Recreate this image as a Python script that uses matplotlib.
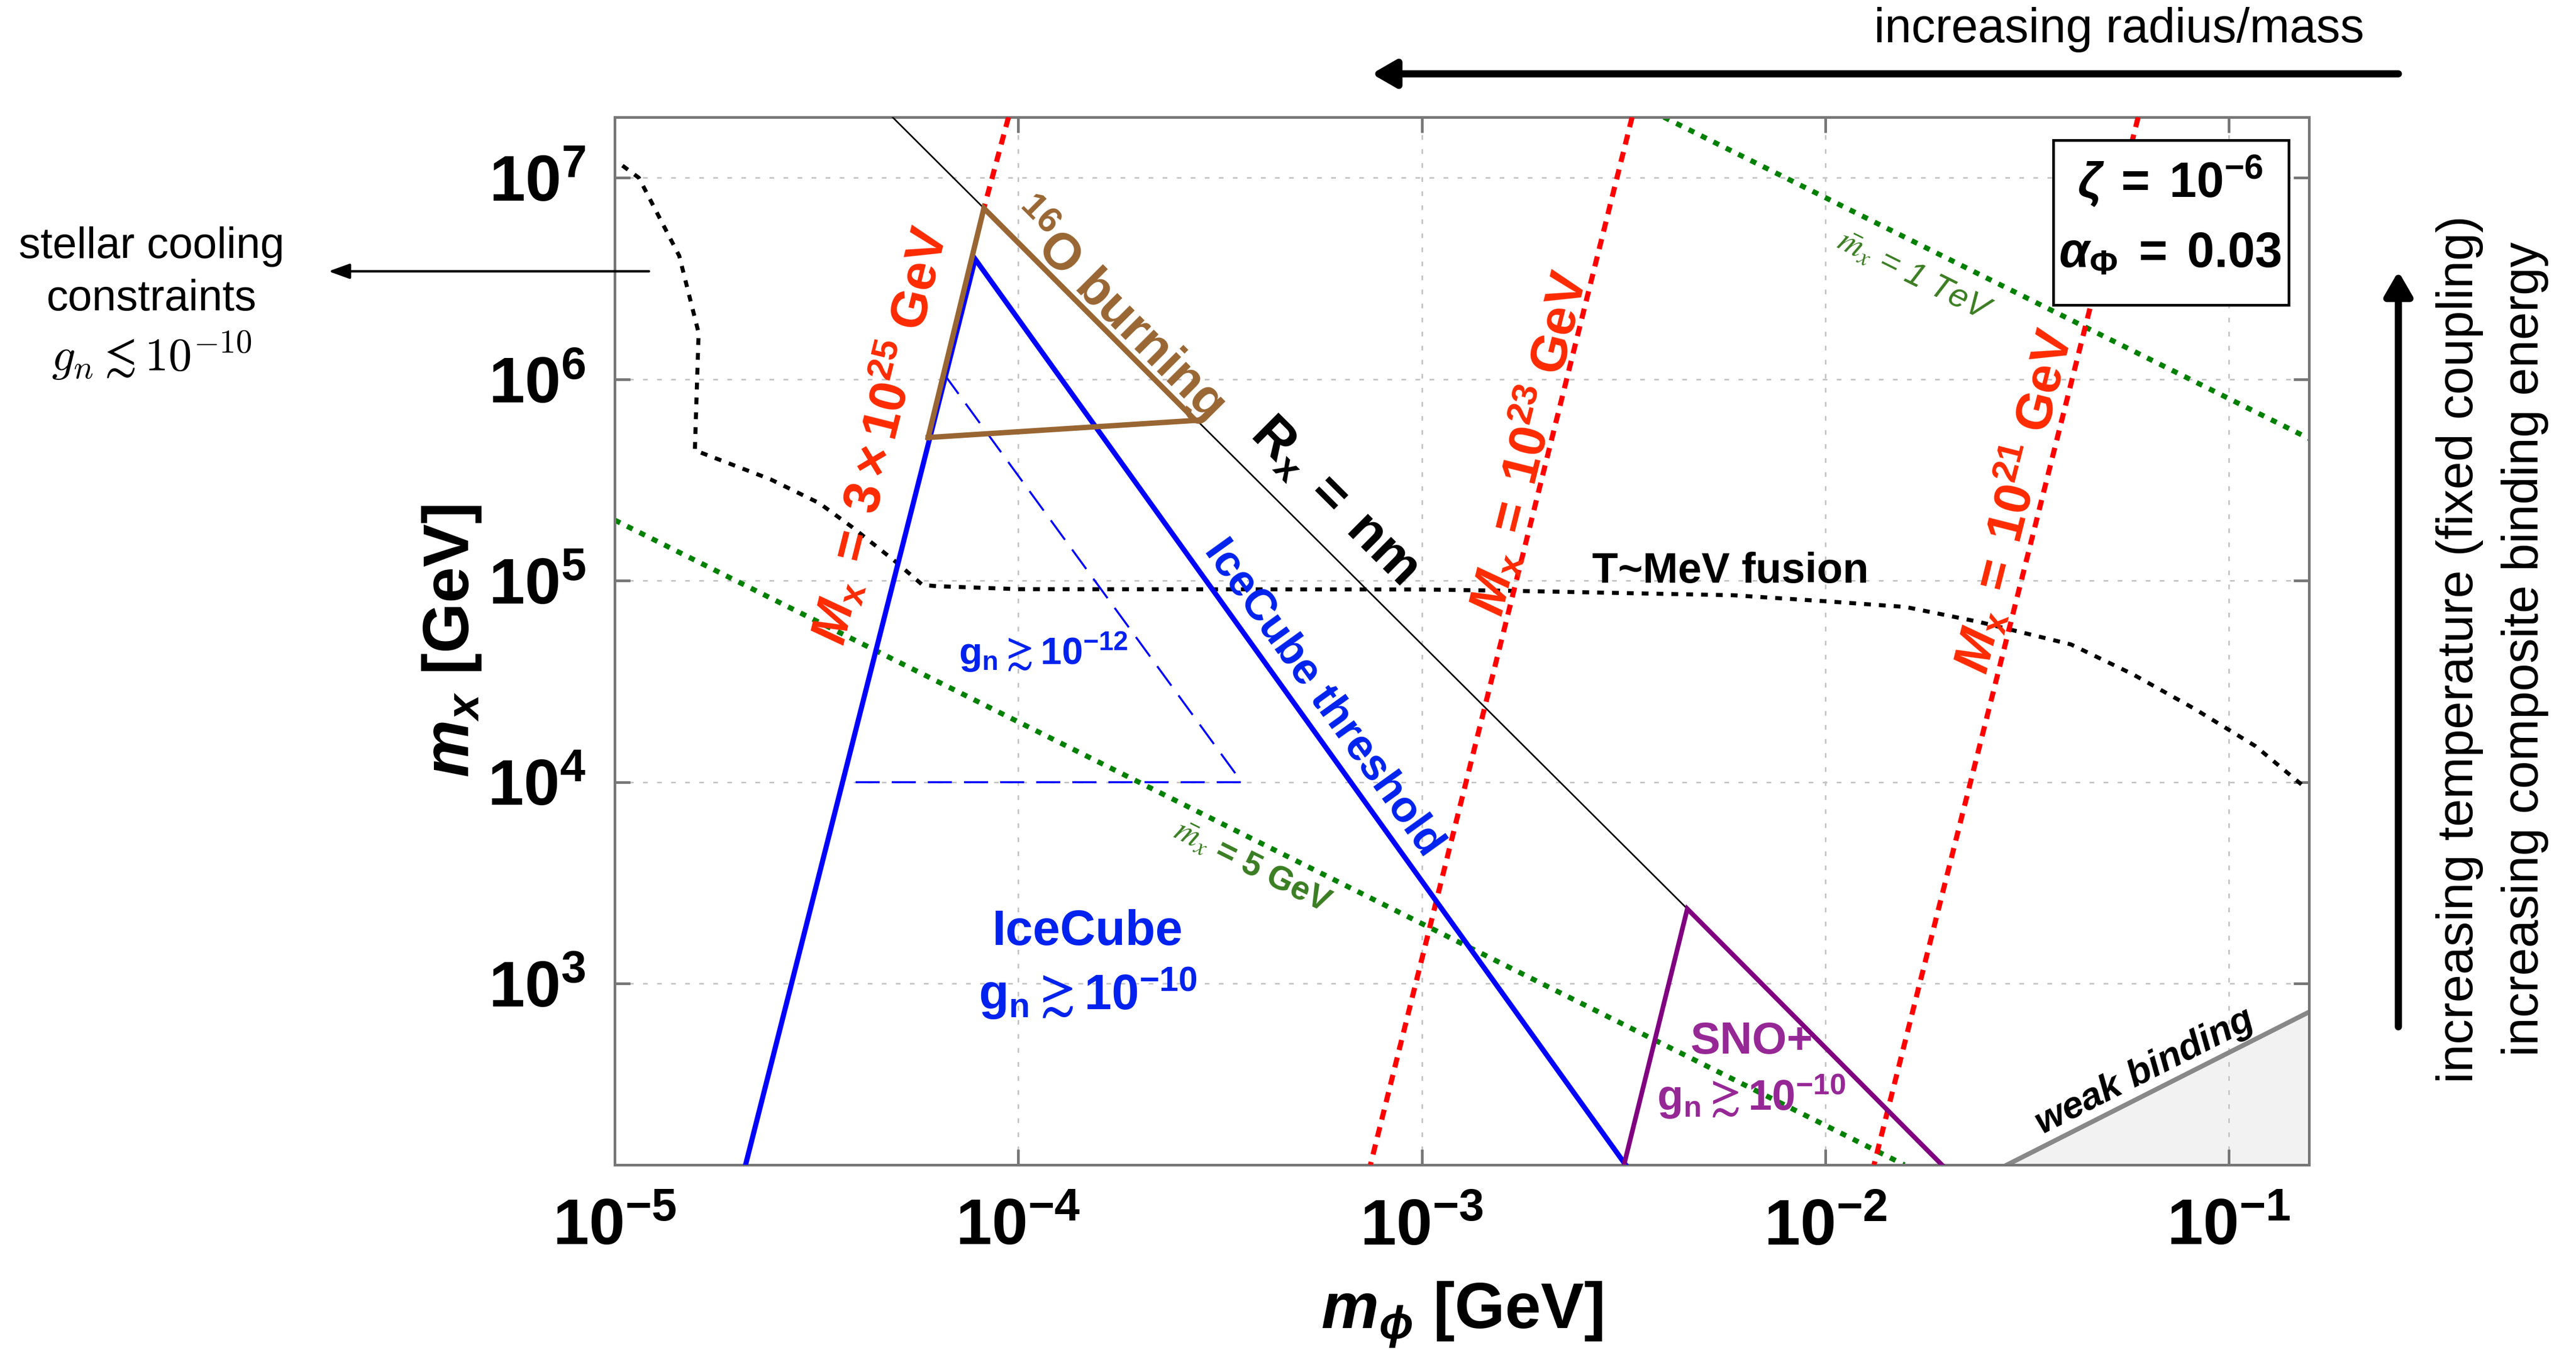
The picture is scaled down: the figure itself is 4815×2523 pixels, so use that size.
import numpy as np
import matplotlib
matplotlib.use('Agg')
import matplotlib.pyplot as plt
from matplotlib.patches import Rectangle, FancyArrowPatch

plt.rcParams['font.family'] = ['Liberation Sans', 'DejaVu Sans']
plt.rcParams['mathtext.fontset'] = 'custom'
plt.rcParams['mathtext.rm'] = 'Liberation Sans'
plt.rcParams['mathtext.it'] = 'Liberation Sans:italic'
plt.rcParams['mathtext.bf'] = 'Liberation Sans:bold'
plt.rcParams['mathtext.bfit'] = 'Liberation Sans:italic:bold'

#%% data (m_phi [GeV], m_x [GeV])
xlim = (1e-5, 0.158)
ylim = (126, 2.0e7)
xticks = [1e-5, 1e-4, 1e-3, 1e-2, 1e-1]
xticklabels = [r'$\mathbf{10^{-5}}$', r'$\mathbf{10^{-4}}$', r'$\mathbf{10^{-3}}$',
               r'$\mathbf{10^{-2}}$', r'$\mathbf{10^{-1}}$']
yticks = [1e3, 1e4, 1e5, 1e6, 1e7]
yticklabels = [r'$\mathbf{10^{3}}$', r'$\mathbf{10^{4}}$', r'$\mathbf{10^{5}}$',
               r'$\mathbf{10^{6}}$', r'$\mathbf{10^{7}}$']

# R_x = nm
rx_phi = [4.88e-5, 4.55e-3]
rx_mx = [2.0e7, 2350]
# 16O burning triangle
o16_phi = [5.98e-5, 8.22e-5, 2.75e-4, 5.98e-5]
o16_mx = [5.14e5, 7.06e6, 6.25e5, 5.14e5]
# IceCube g_n > 1e-10
ice_phi = [2.11e-5, 7.82e-5, 3.20e-3]
ice_mx = [126, 3.95e6, 126]
# IceCube g_n > 1e-12 (dashed)
ice12_phi = [6.56e-5, 3.58e-4, 3.66e-5]
ice12_mx = [1.057e6, 1e4, 1e4]
# SNO+
sno_phi = [3.17e-3, 4.55e-3, 1.945e-2]
sno_mx = [126, 2350, 126]
# constant M_x lines
m25_phi = [9.46e-5, 8.22e-5]
m25_mx = [2.0e7, 7.06e6]
m23_phi = [3.32e-3, 7.46e-4]
m23_mx = [2.0e7, 126]
m21_phi = [5.96e-2, 1.32e-2]
m21_mx = [2.0e7, 126]
# constant mbar_x lines
g5_phi = [1e-5, 1.57e-2]
g5_mx = [2.0e5, 126]
t1_phi = [3.98e-3, 0.158]
t1_mx = [2.0e7, 5.08e5]
# T~MeV fusion / stellar cooling boundary
fus_phi = [1.045e-5, 1.148e-5, 1.445e-5, 1.614e-5, 1.58e-5, 2.43e-5, 3.21e-5, 3.87e-5,
           4.95e-5, 5.79e-5, 6.27e-5, 1.0e-4, 1.0e-3, 1.675e-3, 5.92e-3, 1.0e-2, 1.58e-2,
           2.40e-2, 4.06e-2, 5.77e-2, 8.20e-2, 0.1164, 0.154]
fus_mx = [1.15e7, 1.0e7, 4.10e6, 1.70e6, 4.44e5, 3.19e5, 2.43e5, 1.85e5,
          1.25e5, 9.53e4, 9.40e4, 9.08e4, 9.05e4, 8.91e4, 8.47e4, 7.91e4, 7.41e4,
          6.25e4, 4.83e4, 3.44e4, 2.32e4, 1.51e4, 9.46e3]
# weak binding
weak_phi = [2.82e-2, 0.158]
weak_mx = [126, 723]

W, H = 4815, 2523
fig = plt.figure(figsize=(W / 300, H / 300), dpi=300)
ax = fig.add_axes([1149 / W, 1 - 2177 / H, 3167 / W, 1958 / H])
ax.set_xscale('log')
ax.set_yscale('log')
ax.set_xlim(*xlim)
ax.set_ylim(*ylim)
ax.set_xticks(xticks)
ax.set_xticklabels(xticklabels, fontsize=29)
ax.set_yticks(yticks)
ax.set_yticklabels(yticklabels, fontsize=29)
ax.minorticks_off()
ax.tick_params(direction='in', length=7, width=1.2, color='#777777', top=True, right=True)
ax.tick_params(axis='x', pad=15)
ax.tick_params(axis='y', pad=13)
for s in ax.spines.values():
    s.set_color('#777777')
    s.set_linewidth(1.2)
ax.grid(True, color='#c4c4c4', linestyle=(0, (3, 6)), linewidth=0.7)

ax.set_xlabel(r'$\mathbfit{m_\phi}$ [GeV]', fontsize=29, fontweight='bold', va='center')
ax.set_ylabel(r'$\mathbfit{m_x}$ [GeV]', fontsize=29, fontweight='bold', va='center')
ax.xaxis.set_label_coords(0.5, -0.143)
ax.yaxis.set_label_coords(-0.096, 0.5)

#%% curves
ax.fill_between(weak_phi, weak_mx, [ylim[0], ylim[0]], color='#f2f2f2', zorder=1)
ax.plot(weak_phi, weak_mx, color='#888888', lw=2.1, zorder=2)

ax.plot(fus_phi, fus_mx, color='k', lw=1.8, dashes=(1.7, 2.0), zorder=2)
ax.plot(g5_phi, g5_mx, color='#008000', lw=2.3, dashes=(1.2, 1.5), zorder=2)
ax.plot(t1_phi, t1_mx, color='#008000', lw=2.3, dashes=(1.2, 1.5), zorder=2)
for xs, ys in [(m25_phi, m25_mx), (m23_phi, m23_mx), (m21_phi, m21_mx)]:
    ax.plot(xs, ys, color='#ff0000', lw=2.3, dashes=(2.0, 1.5), zorder=3)
ax.plot(rx_phi, rx_mx, color='k', lw=0.7, zorder=3)
ax.plot(ice12_phi, ice12_mx, color='#0000ff', lw=0.9, dashes=(12, 6), zorder=3)
ax.plot(ice_phi, ice_mx, color='#0000ff', lw=2.3, zorder=4, solid_joinstyle='miter')
ax.plot(sno_phi, sno_mx, color='#800080', lw=2.1, zorder=4, solid_joinstyle='miter')
ax.plot(o16_phi, o16_mx, color='#996633', lw=2.4, zorder=5, solid_joinstyle='miter')


def angle(xs, ys):
    (a, b), (c, d) = ax.transData.transform([(xs[0], ys[0]), (xs[-1], ys[-1])])
    return np.degrees(np.arctan2(d - b, c - a))


def label(x, y, s, rot, **kw):
    ax.text(x, y, s, rotation=rot, rotation_mode='anchor', ha='center', va='center',
            zorder=6, **kw)


red_txt = '#ff2a00'
label(4.52e-5, 5.26e5, r'$\mathbfit{M}_\mathbf{x}\mathbf{\;=\;3\times10^{25}\ GeV}$',
      angle(m23_phi[::-1], m23_mx[::-1]), fontsize=23, color=red_txt)
label(1.837e-3, 4.81e5, r'$\mathbfit{M}_\mathbf{x}\mathbf{\;=\;10^{23}\ GeV}$',
      angle(m23_phi[::-1], m23_mx[::-1]), fontsize=23, color=red_txt)
label(2.92e-2, 2.48e5, r'$\mathbfit{M}_\mathbf{x}\mathbf{\;=\;10^{21}\ GeV}$',
      angle(m21_phi[::-1], m21_mx[::-1]), fontsize=23, color=red_txt)
label(6.08e-4, 2.48e5, r'$\mathbf{R_x\;=\;nm}$', angle(rx_phi, rx_mx), fontsize=24, color='k')
label(1.758e-4, 2.24e6, r'$\mathbf{^{16}O\ burning}$', angle(o16_phi[1:3], o16_mx[1:3]),
      fontsize=23, color='#996633')
label(5.69e-4, 2.62e4, 'IceCube threshold', angle(ice_phi[1:], ice_mx[1:]),
      fontsize=19.5, color='#0022ee', fontweight='bold')
label(5.82e-3, 1.11e5, 'T~MeV fusion', 0, fontsize=19, color='k', fontweight='bold')
label(1.66e-2, 3.25e6, r'$\bar{m}_x$ = 1 TeV', angle(t1_phi, t1_mx), fontsize=15,
      color='#3a7d22', style='italic', math_fontfamily='stix')
label(3.80e-4, 3.81e3, r'$\bar{m}_x$ = 5 GeV', angle(g5_phi, g5_mx), fontsize=15,
      color='#3a7d22', fontweight='bold', math_fontfamily='stix')
label(1.486e-4, 1.80e3, 'IceCube', 0, fontsize=22, color='#0022ee', fontweight='bold')
label(1.486e-4, 895, r'$\mathbf{g_n \gtrsim 10^{-10}}$', 0, fontsize=22, color='#0022ee')
label(1.153e-4, 4.44e4, r'$\mathbf{g_n \gtrsim 10^{-12}}$', 0, fontsize=17, color='#0022ee')
label(6.56e-3, 514, 'SNO+', 0, fontsize=20, color='#962896', fontweight='bold')
label(6.56e-3, 275, r'$\mathbf{g_n \gtrsim 10^{-10}}$', 0, fontsize=19, color='#962896')
label(6.19e-2, 365, r'$\mathbfit{weak\ binding}$', angle(weak_phi, weak_mx), fontsize=17,
      color='k')

# parameter box
ax.add_patch(Rectangle((0.849, 0.8206), 0.139, 0.1574, transform=ax.transAxes,
                       facecolor='white', edgecolor='k', lw=1.2, zorder=7))
ax.text(0.918, 0.939, r'$\mathbfit{\zeta}\mathbf{\;=\;10^{-6}}$', transform=ax.transAxes,
        ha='center', va='center', fontsize=22, zorder=8)
ax.text(0.918, 0.869, r'$\mathbfit{\alpha}_\mathbf{\Phi}\mathbf{\;=\;0.03}$',
        transform=ax.transAxes, ha='center', va='center', fontsize=22, zorder=8)

#%% annotations outside the axes (figure pixels -> fraction)
def fp(X, Y):
    return (X / W, 1 - Y / H)


fig.text(*fp(3961, 55), 'increasing radius/mass', ha='center', va='center', fontsize=21.5)
fig.text(*fp(4597, 1213), 'increasing temperature (fixed coupling)', rotation=90,
         ha='center', va='center', fontsize=22.5)
fig.text(*fp(4720, 1213), 'increasing composite binding energy', rotation=90,
         ha='center', va='center', fontsize=22.5)
fig.text(*fp(283, 461), 'stellar cooling', ha='center', va='center', fontsize=19.5)
fig.text(*fp(283, 559), 'constraints', ha='center', va='center', fontsize=19.5)
fig.text(*fp(283, 665), r'$g_n \lesssim 10^{-10}$', ha='center', va='center', fontsize=21,
         math_fontfamily='cm')

thick = dict(arrowstyle='-|>,head_length=0.45,head_width=0.26', lw=3.2, color='k',
             mutation_scale=20, shrinkA=0, shrinkB=0)
fig.add_artist(FancyArrowPatch(fp(4483, 138), fp(2564, 138),
                               transform=fig.transFigure, **thick))
fig.add_artist(FancyArrowPatch(fp(4483, 1919), fp(4483, 507),
                               transform=fig.transFigure, **thick))
fig.add_artist(FancyArrowPatch(
    fp(1213, 507), fp(614, 507), transform=fig.transFigure,
    arrowstyle='-|>,head_length=0.5,head_width=0.18', lw=1.1, color='k',
    mutation_scale=16, shrinkA=0, shrinkB=0))

fig.savefig('out.png', dpi=300)
